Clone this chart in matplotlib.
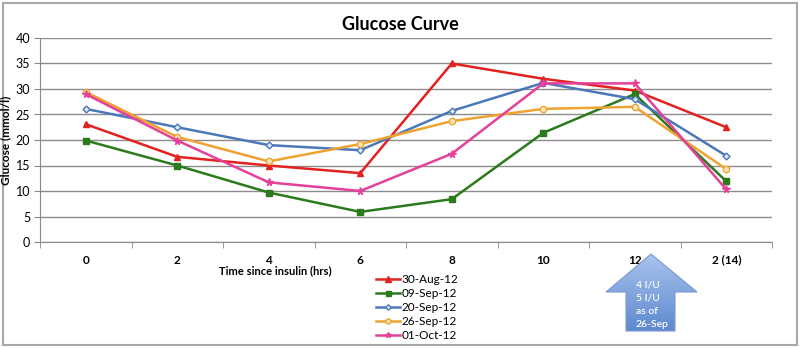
import numpy as np
import matplotlib
matplotlib.use("Agg")
import matplotlib.pyplot as plt
from matplotlib.patches import Polygon, Rectangle
from matplotlib.colors import LinearSegmentedColormap

plt.rcParams['font.family'] = ['Lato', 'DejaVu Sans']

categories = ["0", "2", "4", "6", "8", "10", "12", "2 (14)"]
aug30 = [23.1, 16.7, 15.0, 13.5, 35.0, 32.0, 29.7, 22.5]
sep09 = [19.9, 15.0, 9.7, 5.9, 8.4, 21.4, 29.0, 11.9]
sep20 = [26.1, 22.5, 19.0, 18.0, 25.7, 31.2, 28.0, 16.9]
sep26 = [29.4, 20.6, 15.8, 19.2, 23.7, 26.1, 26.5, 14.3]
oct01 = [29.0, 19.9, 11.7, 10.0, 17.3, 31.1, 31.1, 10.3]
series_labels = ["30-Aug-12", "09-Sep-12", "20-Sep-12", "26-Sep-12", "01-Oct-12"]
note_lines = ["4 I/U", "5 I/U", "as of", "26-Sep"]

W, H = 800, 348
fig = plt.figure(figsize=(W / 100, H / 100), dpi=100)
ax = fig.add_axes([40 / W, 1 - 242 / H, 732 / W, 204 / H])

x = np.arange(len(categories))
styles = [
    dict(color="#e3221f", marker="^", ms=5, mfc="#e3221f"),
    dict(color="#2b7a1c", marker="s", ms=4.5, mfc="#2b7a1c"),
    dict(color="#4a78bb", marker="D", ms=3.5, mfc="#dfe8f5"),
    dict(color="#eea330", marker="o", ms=4.5, mfc="#fbe6c0"),
    dict(color="#e5409a", marker="*", ms=5.5, mfc="#e5409a"),
]
for vals, lab, st in zip([aug30, sep09, sep20, sep26, oct01], series_labels, styles):
    ax.plot(x, vals, lw=1.8, label=lab, markeredgewidth=1.0, mec=st["color"], **st)

ax.set_xlim(-0.5, len(categories) - 0.5)
ax.set_ylim(0, 40)
ax.set_yticks(np.arange(0, 41, 5))
ax.set_xticks(x)
ax.set_xticklabels(categories, fontsize=8.5, fontweight="bold")
ax.set_xticks(np.arange(-0.5, len(categories), 1), minor=True)
ax.tick_params(axis="x", which="major", length=0, pad=9)
ax.tick_params(axis="x", which="minor", length=4, color="#8a8a8a", direction="out")
ax.tick_params(axis="y", length=4, color="#8a8a8a", labelsize=9, pad=3)
ax.grid(axis="y", color="#8c8c8c", lw=1)
ax.set_axisbelow(True)
for side in ["top", "right"]:
    ax.spines[side].set_visible(False)
for side in ["left", "bottom"]:
    ax.spines[side].set_color("#8a8a8a")
ax.set_ylabel("Glucose (mmol/l)", fontsize=8.5, fontweight="bold", labelpad=3)

fig.text(400 / W, 1 - 24 / H, "Glucose Curve", ha="center", va="center",
         fontsize=13, fontweight="bold")
fig.text(275 / W, 1 - 271 / H, "Time since insulin (hrs)", ha="center", va="center",
         fontsize=8, fontweight="bold")

handles, labels = ax.get_legend_handles_labels()
fig.legend(handles, labels, loc="upper left", bbox_to_anchor=(370 / W, 1 - 268 / H),
           frameon=False, fontsize=8.5, handlelength=2.0, handletextpad=0.2,
           labelspacing=0.25, borderpad=0, markerscale=0.8)

# background layer in pixel coordinates: outer frame
ov = fig.add_axes([0, 0, 1, 1], zorder=-1)
ov.set_xlim(0, W)
ov.set_ylim(H, 0)
ov.axis("off")
ov.add_patch(Rectangle((3, 3), 794, 342, fill=False, ec="#a8a8a8", lw=1.5))

# foreground layer: the dosage arrow callout
ov2 = fig.add_axes([0, 0, 1, 1], zorder=5)
ov2.set_xlim(0, W)
ov2.set_ylim(H, 0)
ov2.axis("off")
arrow_pts = [(651, 254), (697, 292), (675, 292), (675, 331),
             (626, 331), (626, 292), (606, 292)]
poly = Polygon(arrow_pts, closed=True, fc="none", ec="#7a9ad0", lw=0.8)
ov2.add_patch(poly)
grad = np.linspace(0, 1, 256).reshape(-1, 1)
cmap = LinearSegmentedColormap.from_list("arrowfill", ["#a9c3ee", "#5d89cf"])
img = ov2.imshow(grad, cmap=cmap, extent=(606, 697, 331, 254), aspect="auto",
                 interpolation="bilinear")
img.set_clip_path(poly)
for i, t in enumerate(note_lines):
    ov2.text(636, 285 + i * 13.3, t, color="white", fontsize=7.5, va="center",
             ha="left", fontweight="semibold")

fig.savefig("out.png", dpi=100)
